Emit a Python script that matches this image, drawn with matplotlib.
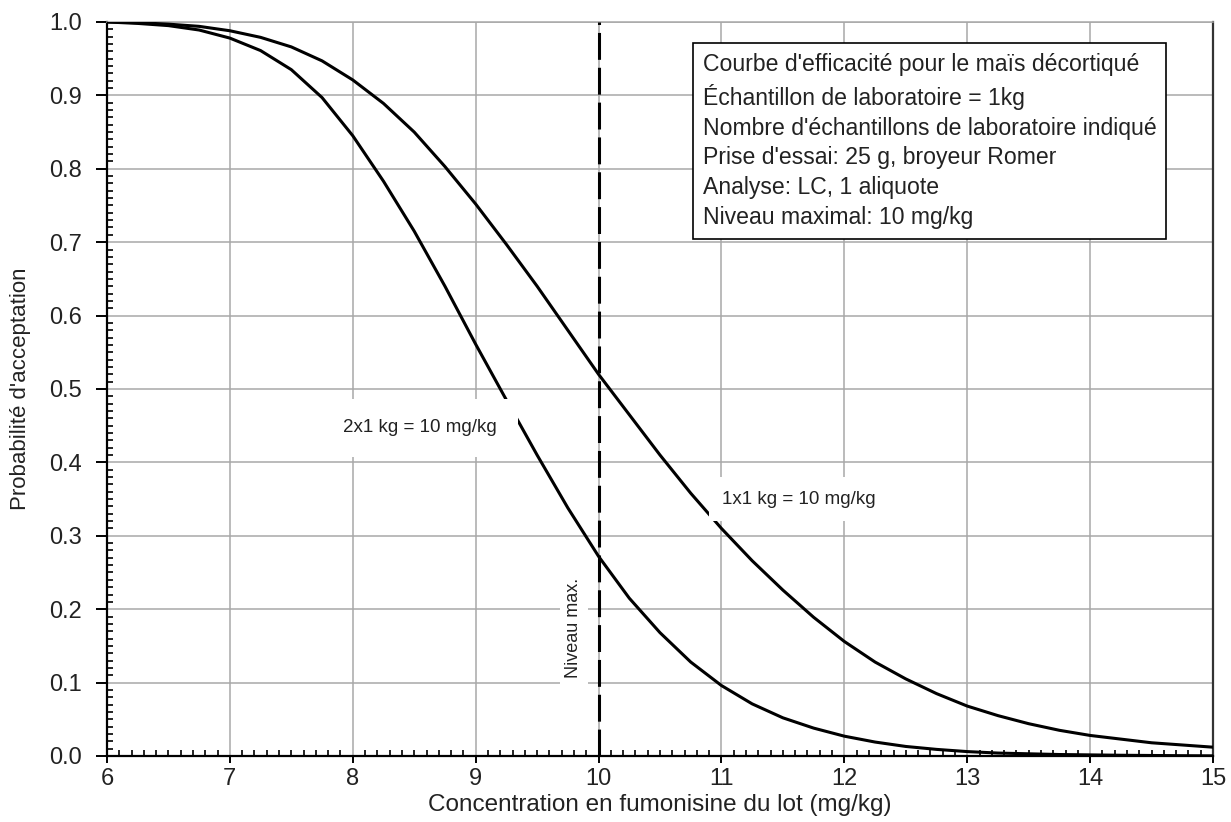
import matplotlib
matplotlib.use("Agg")
import matplotlib.pyplot as plt
from matplotlib.ticker import MultipleLocator

plt.rcParams['font.family'] = ['Liberation Sans', 'DejaVu Sans']

# concentration du lot (mg/kg)
conc = [6.00, 6.25, 6.50, 6.75, 7.00, 7.25, 7.50, 7.75, 8.00, 8.25, 8.50,
        8.75, 9.00, 9.25, 9.50, 9.75, 10.00, 10.25, 10.50, 10.75, 11.00,
        11.25, 11.50, 11.75, 12.00, 12.25, 12.50, 12.75, 13.00, 13.25,
        13.50, 13.75, 14.00, 14.25, 14.50, 14.75, 15.00]
# 1 x 1 kg
p_1x1 = [1.000, 0.999, 0.997, 0.994, 0.988, 0.979, 0.966, 0.947, 0.921,
         0.889, 0.850, 0.803, 0.752, 0.697, 0.640, 0.580, 0.520, 0.465,
         0.410, 0.358, 0.310, 0.266, 0.226, 0.189, 0.156, 0.128, 0.105,
         0.085, 0.068, 0.055, 0.044, 0.035, 0.028, 0.023, 0.018, 0.015,
         0.012]
# 2 x 1 kg
p_2x1 = [1.000, 0.998, 0.995, 0.989, 0.978, 0.961, 0.935, 0.897, 0.845,
         0.783, 0.715, 0.640, 0.561, 0.485, 0.410, 0.338, 0.272, 0.215,
         0.168, 0.128, 0.096, 0.071, 0.052, 0.038, 0.027, 0.019, 0.013,
         0.009, 0.006, 0.004, 0.003, 0.002, 0.0015, 0.001, 0.0007, 0.0004,
         0.0002]

max_level = 10

info_lines = [
    "Courbe d'efficacité pour le maïs décortiqué",
    "Échantillon de laboratoire = 1kg",
    "Nombre d'échantillons de laboratoire indiqué",
    "Prise d'essai: 25 g, broyeur Romer",
    "Analyse: LC, 1 aliquote",
    "Niveau maximal: 10 mg/kg",
]

fig = plt.figure(figsize=(12.31, 8.22), dpi=100)
ax = fig.add_axes([0.0869, 0.0803, 0.8985, 0.893])

ax.plot(conc, p_1x1, color='black', lw=2.2, zorder=3)
ax.plot(conc, p_2x1, color='black', lw=2.2, zorder=3)
ax.axvline(max_level, color='black', lw=2.2, ls=(0, (8.8, 2.6)), zorder=3)

ax.set_xlim(6, 15)
ax.set_ylim(0, 1)
ax.xaxis.set_major_locator(MultipleLocator(1))
ax.xaxis.set_minor_locator(MultipleLocator(0.1))
ax.yaxis.set_major_locator(MultipleLocator(0.1))
ax.yaxis.set_minor_locator(MultipleLocator(0.01))
ax.yaxis.set_major_formatter(plt.FuncFormatter(lambda v, p: '%.1f' % v))

ax.grid(True, which='major', color='#a8a8a8', lw=1.1, zorder=1)
ax.set_axisbelow(True)

ax.tick_params(which='major', direction='out', width=1.4,
               labelsize=17, colors='black', labelcolor='#222222')
ax.tick_params(axis='y', which='major', length=8, pad=10)
ax.tick_params(axis='x', which='major', length=5, pad=4)
ax.tick_params(which='minor', direction='in', length=4, width=1.2)

for side in ['left', 'bottom']:
    ax.spines[side].set_linewidth(1.6)
    ax.spines[side].set_color('black')
ax.spines['right'].set_color('#333333')
ax.spines['right'].set_linewidth(1.6)
ax.spines['top'].set_color('#a8a8a8')
ax.spines['top'].set_linewidth(1.1)

ax.set_xlabel("Concentration en fumonisine du lot (mg/kg)", fontsize=17.5,
              color='#222222')
ax.set_ylabel("Probabilité d'acceptation", fontsize=16, color='#222222')
ax.xaxis.set_label_coords(0.5, -0.067)
ax.xaxis.label.set_va('center')
ax.yaxis.set_label_coords(-0.078, 0.5)
ax.yaxis.label.set_va('center')

ax.text(8.55, 0.447, "2x1 kg = 10 mg/kg", fontsize=13.5, ha='center',
        va='center', zorder=4, color='#222222',
        bbox=dict(boxstyle='square,pad=1.1', fc='white', ec='none'))
ax.text(11.63, 0.35, "1x1 kg = 10 mg/kg", fontsize=13.5, ha='center',
        va='center', zorder=4, color='#222222',
        bbox=dict(boxstyle='square,pad=0.7', fc='white', ec='none'))
ax.text(9.8, 0.174, "Niveau max.", fontsize=13, rotation=90, ha='center',
        va='center', color='#222222',
        bbox=dict(boxstyle='square,pad=0.3', fc='white', ec='none'), zorder=4)

ax.text(10.85, 0.958, "\n".join(info_lines), fontsize=16.6, ha='left',
        va='top', linespacing=1.38, color='#222222', zorder=5,
        bbox=dict(boxstyle='square,pad=0.42', fc='white', ec='black', lw=1.2))

fig.savefig("out.png", dpi=100)
